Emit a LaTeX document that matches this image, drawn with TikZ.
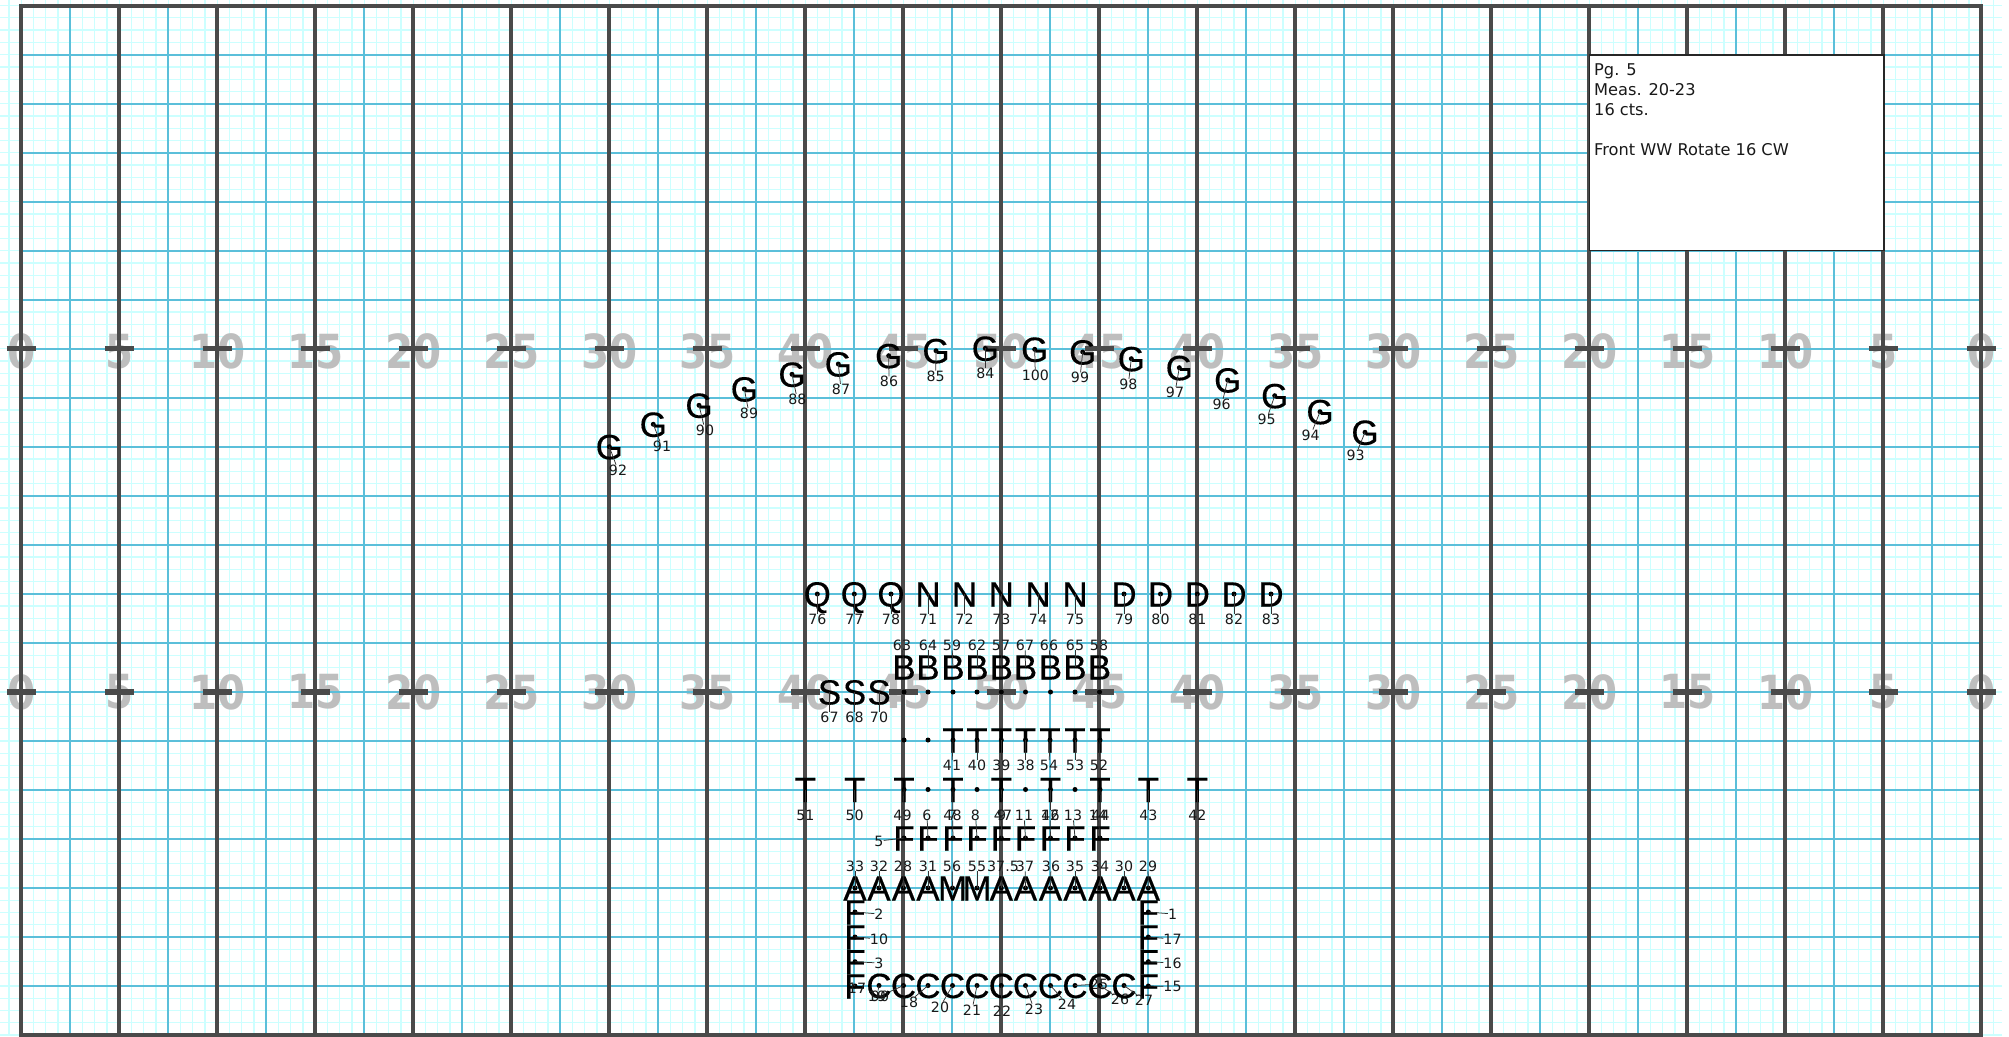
\documentclass[tikz,border=0pt]{standalone}
\usepackage{fontspec}
\setmainfont{DejaVu Sans}
\newfontfamily\letfont[FakeBold=0.3]{Liberation Sans}
\newfontfamily\yardfont[FakeStretch=0.86]{DejaVu Sans Bold}
\definecolor{finegrid}{HTML}{CCFFFF}
\definecolor{bluegrid}{HTML}{5BBFDA}
\definecolor{heavy}{HTML}{4A4A4A}
\definecolor{yardnum}{HTML}{BEBEBE}
\tikzset{
  x=1pt,y=-1pt,
  finel/.style={draw=finegrid,line width=1.25pt},
  bluel/.style={draw=bluegrid,line width=2pt},
  heavyl/.style={draw=heavy,line width=4.2pt},
  hashl/.style={draw=heavy,line width=5.6pt},
  yardn/.style={text=yardnum,inner sep=0pt,font=\fontsize{47}{47}\selectfont\yardfont},
  letterm/.style={inner sep=0pt,text=black,text height=25pt,text depth=0pt,font=\fontsize{35}{35}\selectfont\letfont},
  dotm/.style={circle,fill=black,inner sep=0pt,minimum size=5pt},
  numm/.style={inner sep=0pt,text=black!90,text height=10.3pt,text depth=0pt,font=\fontsize{14.2}{14.2}\selectfont},
  leader/.style={draw=black!80,line width=0.75pt},
  infobox/.style={draw=black!85,line width=1.4pt,fill=white,inner sep=0pt,minimum width=294.7pt,minimum height=195.7pt},
  infotext/.style={inner sep=0pt,anchor=north west,align=left,text=black!90,font=\fontsize{16.2}{20}\selectfont},
}
% id, letter, dot x, dot y, label, label x, label y
\newcommand\perf[7]{%
  \node[letterm] (L#1) at (#3,#4) {#2};
  \node[dotm] (D#1) at (#3,#4) {};
  \node[numm] (N#1) at (#6,#7) {#5};
  \draw[leader] (D#1.center) -- (N#1);
}
\newcommand\perfnodot[7]{%
  \node[letterm] (L#1) at (#3,#4) {#2};
  \node[numm] (N#1) at (#6,#7) {#5};
  \draw[leader] (L#1.center) -- (N#1);
}
% id, letter, x, letter y, dot y, label, label x, label y
\newcommand\perfabove[8]{%
  \node[letterm] (L#1) at (#3,#4) {#2};
  \node[dotm] (D#1) at (#3,#5) {};
  \node[numm] (N#1) at (#7,#8) {#6};
  \draw[leader] (L#1.center) -- (N#1);
}
\newcommand\bare[3]{\node[dotm] (E#1) at (#2,#3) {};}
\begin{document}
\begin{tikzpicture}
\useasboundingbox (0,0) rectangle (2009,1036);
\fill[white] (0,0) rectangle (2009,1036);
% fine grid
\foreach \n in {-1,...,161} \draw[finel] ({21.3+12.25*\n},0) -- ({21.3+12.25*\n},1036);
\foreach \m in {0,...,84} \draw[finel] (0,{5.6+12.255*\m}) -- (2002,{5.6+12.255*\m});
% yard numbers
\foreach \k/\v in {0/0,1/5,2/10,3/15,4/20,5/25,6/30,7/35,8/40,9/45,10/50,11/45,12/40,13/35,14/30,15/25,16/20,17/15,18/10,19/5,20/0}{
  \node[yardn] (ya\k) at ({21.3+98*\k},351.5) {\v};
  \node[yardn] (yb\k) at ({21.3+98*\k},692) {\v};
}
% blue grid
\foreach \k in {0,...,40} \draw[bluel] ({21.3+49*\k},5.6) -- ({21.3+49*\k},1034.6);
\foreach \j in {0,...,21} \draw[bluel] (21.3,{5.6+49.0*\j}) -- (1981.3,{5.6+49.0*\j});
% heavy lines
\foreach \k in {0,...,20} \draw[heavyl] ({21.3+98*\k},5.6) -- ({21.3+98*\k},1034.6);
\draw[heavyl] (19.2,5.6) -- (1983.4,5.6);
\draw[heavyl] (19.2,1034.6) -- (1983.4,1034.6);
\foreach \k in {0,...,20}{
  \draw[hashl] ({21.3+98*\k-14.5},348.6) -- ({21.3+98*\k+14.5},348.6);
  \draw[hashl] ({21.3+98*\k-14.5},691.9) -- ({21.3+98*\k+14.5},691.9);
}
% information box
\node[infobox] (box) at (1736.7,152.9) {};
\node[infotext] (info) at (1594,63.5) {Pg. 5\\Meas. 20-23\\16 cts.\\\phantom{x}\\Front WW Rotate 16 CW};
% G arc
\perf{92}{G}{609.3}{446.7}{92}{618}{470}
\perf{91}{G}{653.3}{424.3}{91}{662}{446.7}
\perf{90}{G}{699}{405.3}{90}{705}{430}
\perf{89}{G}{744.3}{389}{89}{749}{413.3}
\perf{88}{G}{792}{374.3}{88}{797.3}{399.3}
\perf{87}{G}{838.3}{364}{87}{841}{389.3}
\perf{86}{G}{888.7}{355.7}{86}{889}{381.7}
\perf{85}{G}{936}{350.7}{85}{935.7}{376}
\perf{84}{G}{985.3}{348.3}{84}{985.3}{373.3}
\perf{100}{G}{1034.7}{349.3}{100}{1035.3}{375}
\perf{99}{G}{1082.7}{352}{99}{1080}{377.7}
\perf{98}{G}{1131.3}{358.7}{98}{1128.3}{384.3}
\perf{97}{G}{1179.3}{367.7}{97}{1175}{392.3}
\perf{96}{G}{1227.7}{380}{96}{1221.7}{404.3}
\perf{95}{G}{1274.7}{395.7}{95}{1266.7}{419}
\perf{94}{G}{1320}{411.7}{94}{1310.7}{435}
\perf{93}{G}{1365}{432.3}{93}{1355.7}{455}
% Q N D row
\perf{76}{Q}{817.3}{594}{76}{817.3}{619.5}
\perf{77}{Q}{854.3}{594}{77}{854.3}{619.5}
\perf{78}{Q}{891}{594}{78}{891}{619.5}
\perfnodot{71}{N}{928}{594}{71}{928}{619.5}
\perfnodot{72}{N}{964.5}{594}{72}{964.5}{619.5}
\perfnodot{73}{N}{1001.3}{594}{73}{1001.3}{619.5}
\perfnodot{74}{N}{1038}{594}{74}{1038}{619.5}
\perfnodot{75}{N}{1075}{594}{75}{1075}{619.5}
\perf{79}{D}{1124}{594}{79}{1124}{619.5}
\perf{80}{D}{1160.5}{594}{80}{1160.5}{619.5}
\perf{81}{D}{1197.3}{594}{81}{1197.3}{619.5}
\perf{82}{D}{1234}{594}{82}{1234}{619.5}
\perf{83}{D}{1271}{594}{83}{1271}{619.5}
% B row
\perfabove{63}{B}{904}{667}{692}{63}{902}{645}
\perfabove{64}{B}{928}{667}{692}{64}{928}{645}
\perfabove{59}{B}{953}{667}{692}{59}{952}{645}
\perfabove{62}{B}{977}{667}{692}{62}{977}{645}
\perfabove{57}{B}{1001.3}{667}{692}{57}{1001}{645}
\perfabove{67b}{B}{1025.5}{667}{692}{67}{1025}{645}
\perfabove{66}{B}{1050.5}{667}{692}{66}{1049}{645}
\perfabove{65}{B}{1075}{667}{692}{65}{1075}{645}
\perfabove{58}{B}{1099.5}{667}{692}{58}{1099}{645}
% S
\perfnodot{67}{S}{829.5}{692}{67}{829.5}{717.5}
\perfnodot{68}{S}{854.5}{692}{68}{854.5}{717.5}
\perfnodot{70}{S}{879}{692}{70}{879}{717.5}
% T upper row
\bare{a}{904}{740}
\bare{b}{928}{740}
\perf{41}{T}{953}{740}{41}{952}{765.5}
\perf{40}{T}{977}{740}{40}{977}{765.5}
\perf{39}{T}{1001.3}{740}{39}{1001.3}{765.5}
\perf{38}{T}{1025.5}{740}{38}{1025.5}{765.5}
\perf{54}{T}{1050}{740}{54}{1049}{765.5}
\perf{53}{T}{1075}{740}{53}{1075}{765.5}
\perf{52}{T}{1100}{740}{52}{1099}{765.5}
% T lower row
\perfnodot{51}{T}{805.3}{789.5}{51}{805.3}{815}
\perfnodot{50}{T}{854.7}{789.5}{50}{854.7}{815}
\perf{49}{T}{904}{789.5}{49}{902.5}{815}
\bare{c}{928}{789.5}
\perf{48}{T}{953}{789.5}{48}{952.5}{815}
\bare{d}{977}{789.5}
\perf{47}{T}{1001.3}{789.5}{47}{1003}{815}
\bare{e}{1025.5}{789.5}
\perf{46}{T}{1050.5}{789.5}{46}{1050.5}{815}
\bare{f}{1075}{789.5}
\perf{44}{T}{1100}{789.5}{44}{1100.5}{815}
\perfnodot{43}{T}{1148.3}{789.5}{43}{1148.3}{815}
\perfnodot{42}{T}{1197.3}{789.5}{42}{1197.3}{815}
% F row
\perf{5}{F}{904}{838}{5}{879}{841}
\perf{6}{F}{928}{838}{6}{927}{815}
\perf{7}{F}{953}{838}{7}{952.5}{815}
\perf{8}{F}{977}{838}{8}{975.5}{815}
\perf{9}{F}{1001.3}{838}{9}{1001.7}{815}
\perf{11}{F}{1025.5}{838}{11}{1024}{815}
\perf{12}{F}{1050.5}{838}{12}{1050}{815}
\perf{13}{F}{1075}{838}{13}{1073}{815}
\perf{14}{F}{1100}{838}{14}{1098}{815}
% A M row
\perf{33}{A}{855}{888}{33}{855}{866}
\perf{32}{A}{879}{888}{32}{879}{866}
\perf{28}{A}{903.5}{888}{28}{903}{866}
\perf{31}{A}{928}{888}{31}{928}{866}
\perf{56}{M}{952.5}{888}{56}{952}{866}
\perf{55}{M}{977}{888}{55}{977}{866}
\perf{375}{A}{1001.3}{888}{37.5}{1003}{866}
\perf{37}{A}{1025.5}{888}{37}{1025}{866}
\perf{36}{A}{1050.5}{888}{36}{1051}{866}
\perf{35}{A}{1075}{888}{35}{1075}{866}
\perf{34}{A}{1100}{888}{34}{1100}{866}
\perf{30}{A}{1124}{888}{30}{1124}{866}
\perf{29}{A}{1148.3}{888}{29}{1148}{866}
% left column
\perf{2}{F}{855}{912}{2}{879}{914}
\perf{10}{F}{855}{937}{10}{879}{939}
\perf{3}{F}{855}{961.7}{3}{879}{963}
\perf{4}{F}{855}{986}{17}{857}{988}
% right column
\perf{1}{F}{1148.3}{912}{1}{1172.5}{914}
\perf{17}{F}{1148.3}{937}{17}{1172.5}{939}
\perf{16}{F}{1148.3}{961.7}{16}{1172.5}{963}
\perf{15}{F}{1148.3}{986}{15}{1172.5}{986.5}
% C row
\perf{19}{C}{879}{985.5}{19}{877}{996}
\perf{90b}{C}{903.5}{985.5}{90}{880}{996}
\perf{18}{C}{928}{985.5}{18}{909}{1002}
\perf{20}{C}{952.5}{985.5}{20}{940}{1007}
\perf{21}{C}{977}{985.5}{21}{972}{1010}
\perf{22}{C}{1001.3}{985.5}{22}{1002}{1011}
\perf{23}{C}{1025.5}{985.5}{23}{1034}{1009}
\perf{24}{C}{1050.5}{985.5}{24}{1067}{1004}
\perf{25}{C}{1075}{985.5}{25}{1099}{984}
\perf{26}{C}{1100}{985.5}{26}{1120}{999}
\perf{27}{C}{1124}{985.5}{27}{1144}{1000}
\end{tikzpicture}
\end{document}
